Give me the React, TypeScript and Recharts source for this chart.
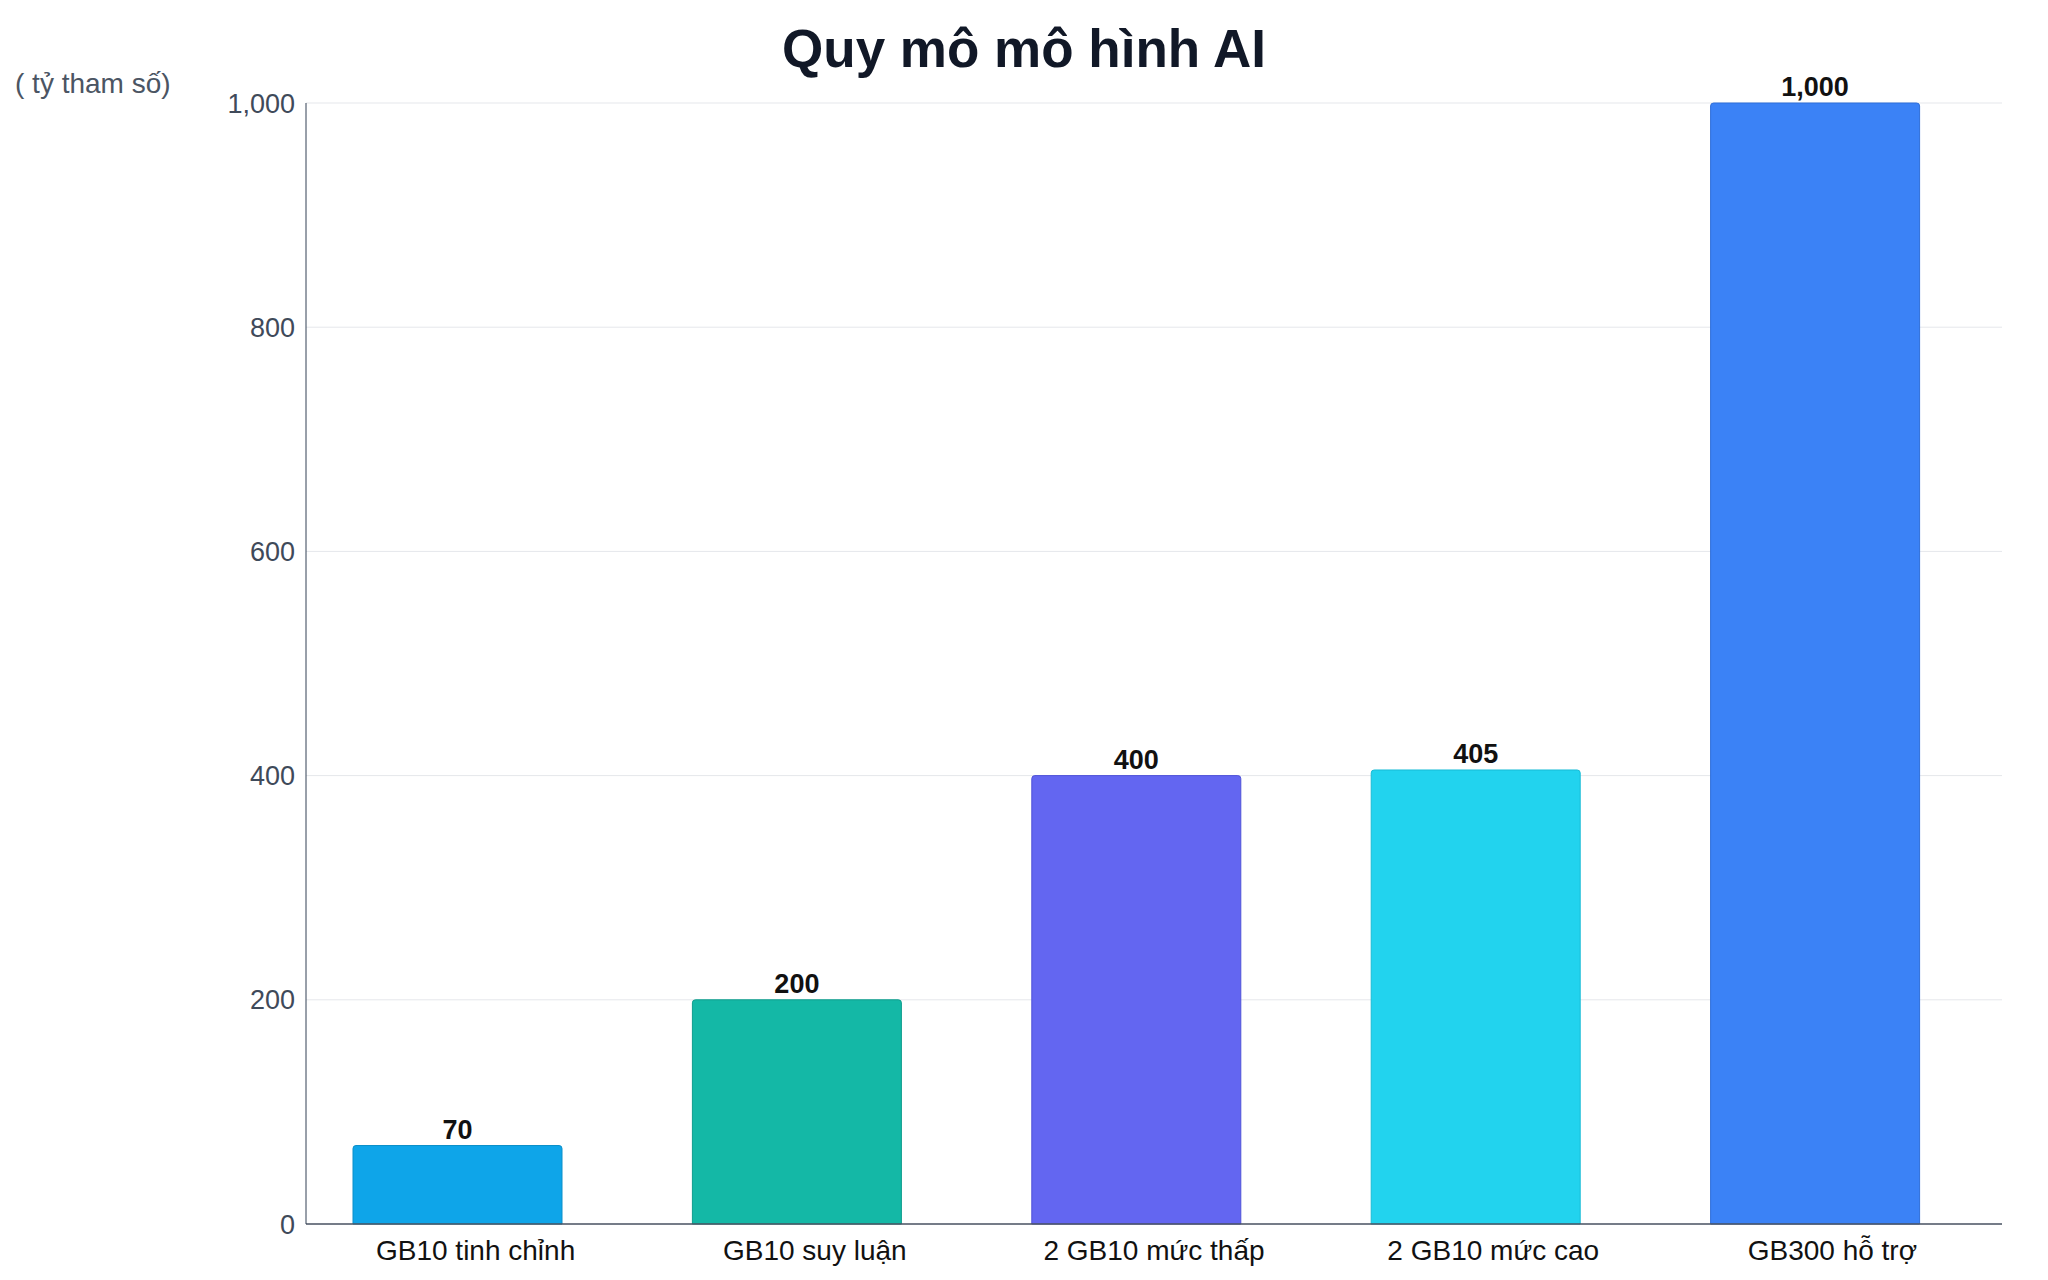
import { BarChart, Bar, XAxis, YAxis, CartesianGrid, Cell, LabelList } from "recharts"

const categories = [
  "GB10 tinh chỉnh",
  "GB10 suy luận",
  "2 GB10 mức thấp",
  "2 GB10 mức cao",
  "GB300 hỗ trợ",
]
const values = [70, 200, 400, 405, 1000]
const barColors = ["#0ea5e9", "#14b8a6", "#6366f1", "#22d3ee", "#3b82f6"]
const barEdges = ["#0b8fc9", "#0f9d8d", "#4f52d8", "#17bcd6", "#2f6fd9"]
const yTicks = [0, 200, 400, 600, 800, 1000]

const data = categories.map((name, i) => ({ name, value: values[i] }))

const fmt = (v: number) => v.toLocaleString("en-US")

export default function App() {
  return (
    <div
      style={{
        position: "absolute",
        left: 0,
        top: 0,
        width: 2048,
        height: 1280,
        background: "#ffffff",
        fontFamily: "'Liberation Sans', Arial, sans-serif",
      }}
    >
      <div
        style={{
          position: "absolute",
          top: 22,
          left: 0,
          width: 2048,
          textAlign: "center",
          fontSize: 53,
          lineHeight: "53px",
          fontWeight: 700,
          color: "#111827",
        }}
      >
        Quy mô mô hình AI
      </div>
      <div
        style={{
          position: "absolute",
          top: 70,
          left: 15,
          fontSize: 28,
          lineHeight: "28px",
          color: "#4b5563",
          whiteSpace: "pre",
        }}
      >
        ( tỷ tham số)
      </div>
      <BarChart
        width={2048}
        height={1280}
        data={data}
        margin={{ top: 103, right: 46, bottom: 0, left: 0 }}
        style={{ fontFamily: "'Liberation Sans', Arial, sans-serif" }}
      >
        <CartesianGrid vertical={false} stroke="#e5e7eb" />
        <XAxis
          dataKey="name"
          height={56}
          tickLine={false}
          tickMargin={10}
          axisLine={{ stroke: "#4b5563", strokeWidth: 1.5 }}
          tick={{ fill: "#111111", fontSize: 28 }}
          interval={0}
        />
        <XAxis
          xAxisId="bars"
          dataKey="name"
          height={0}
          hide
          padding={{ left: -18, right: 17 }}
        />
        <YAxis
          width={306}
          domain={[0, 1000]}
          ticks={yTicks}
          tickFormatter={fmt}
          tickLine={false}
          tickMargin={5}
          axisLine={{ stroke: "#334155", strokeWidth: 1 }}
          tick={{ fill: "#3f4a5a", fontSize: 27 }}
        />
        <Bar
          dataKey="value"
          xAxisId="bars"
          barSize={209}
          radius={[3, 3, 0, 0]}
          isAnimationActive={false}
        >
          {data.map((d, i) => (
            <Cell key={d.name} fill={barColors[i]} stroke={barEdges[i]} strokeWidth={1} />
          ))}
          <LabelList
            dataKey="value"
            position="top"
            offset={7}
            formatter={(v: any) => fmt(Number(v))}
            style={{ fill: "#111111", fontSize: 27, fontWeight: 700 }}
          />
        </Bar>
      </BarChart>
    </div>
  )
}
